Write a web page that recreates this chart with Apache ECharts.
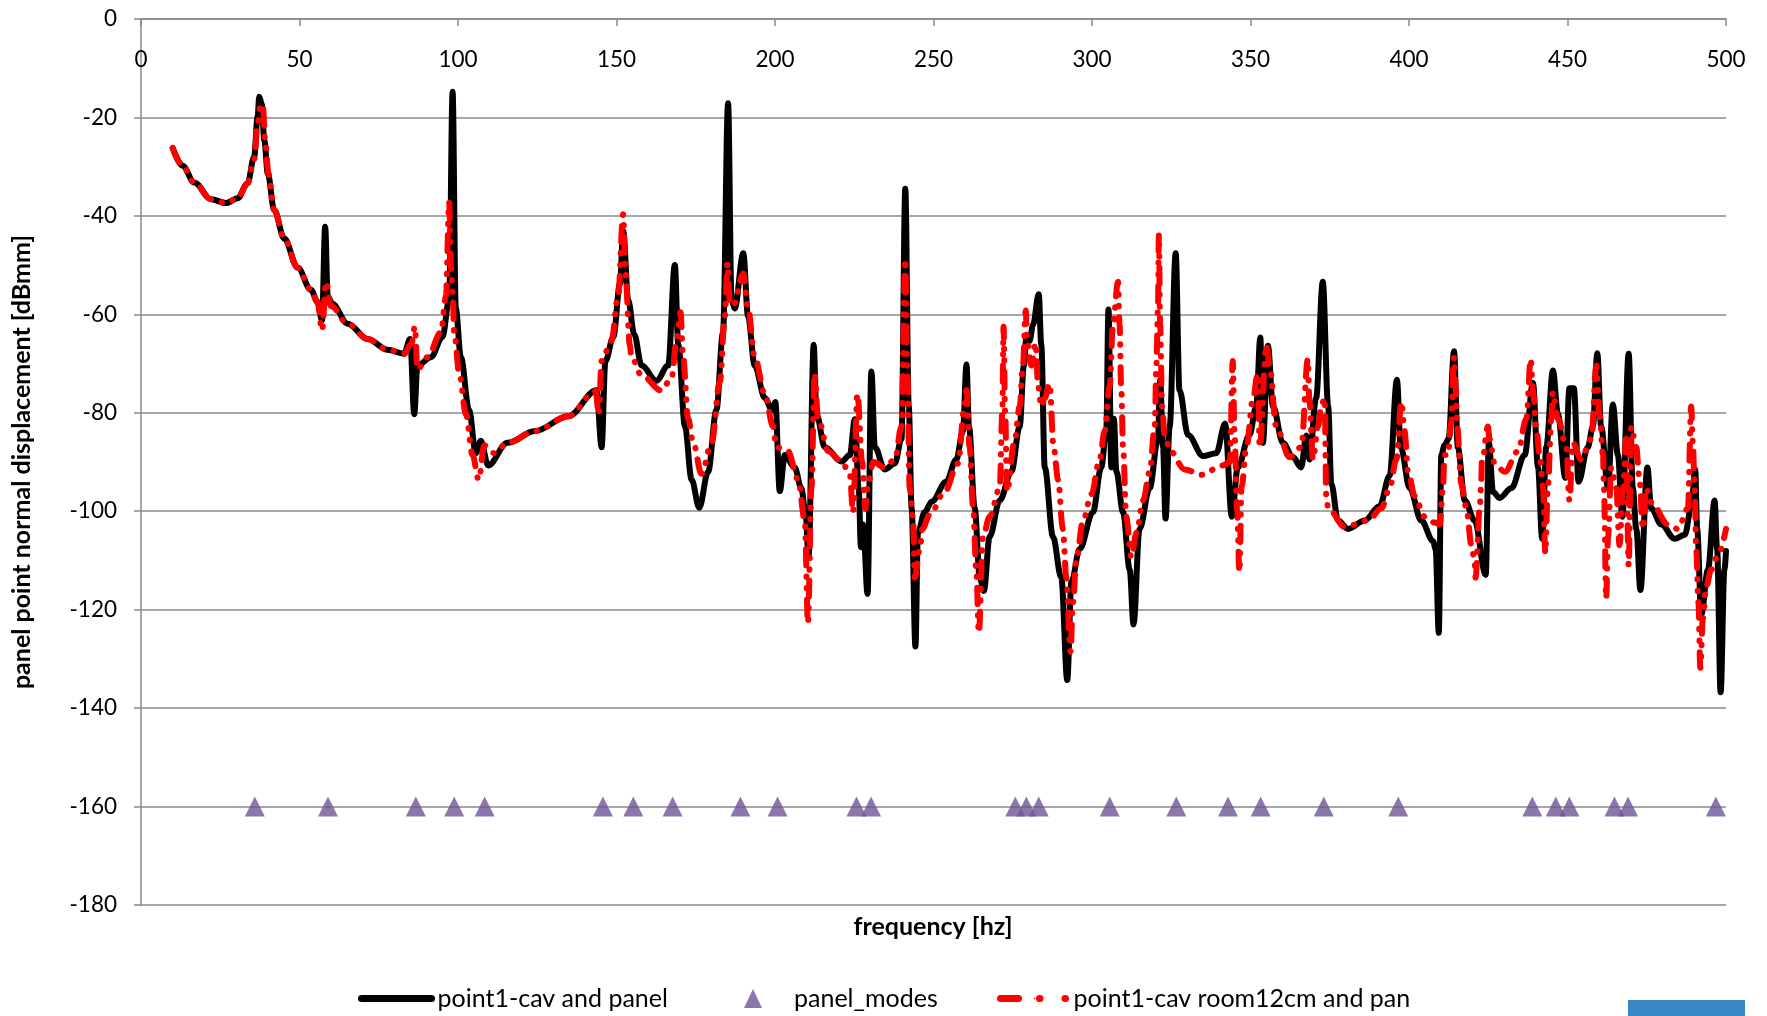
<!DOCTYPE html>
<html>
<head>
<meta charset="utf-8">
<script src="https://cdn.jsdelivr.net/npm/echarts@6/dist/echarts.min.js"></script>
<style>
html,body{margin:0;padding:0;background:#fff;}
#c{width:1767px;height:1016px;}
</style>
</head>
<body>
<div id="c"></div>
<script>
// ---- data ----
var xTicks = [0, 50, 100, 150, 200, 250, 300, 350, 400, 450, 500];
var yTicks = [0, -20, -40, -60, -80, -100, -120, -140, -160, -180];

var blackFreq = [10,13.1,16.8,22.1,26.8,30.5,33.6,35.7,36.8,37.3,38.1,38.9,40,42,45.2,49.4,53.6,55.7,57.1,58.1,58.9,60.4,65.2,71.5,77.8,83,84.9,86.2,87.2,91.5,95.1,97.2,98.3,99.3,100.9,103.5,105.6,107.2,109.5,115.6,124.3,134.8,143.7,145.3,146.5,149,151.1,152.1,153.7,155.6,157.9,162.6,166.3,168.4,169.5,171.6,173.7,176.1,178.9,181.5,183.6,185.2,186.3,187.3,190,191.5,193.6,196.8,199.1,200.1,201.5,203.1,206.2,208.3,209.6,210.6,212.2,213.1,215.7,221,223.6,225.2,226.4,227.1,227.8,229.2,230.4,231.5,234.6,237.8,239.9,241.1,242.2,243.1,244.3,245.1,247.2,249.5,254,257.2,259.3,260.4,261.2,263,264.6,265.9,267.7,270.9,274.6,277.2,278.5,279.3,280.3,281.4,283.2,284,285.1,287.7,290.3,292.2,293.5,296.1,300.3,302.9,304.5,305.2,306.1,306.9,307.7,309.8,311.9,313.1,315,318.2,320.8,321.5,322.4,323.2,324.5,326.4,327.6,330.3,335,339.2,342,344.1,346,349.7,351.8,353.1,353.9,355.5,357.1,360.2,363.4,366,367.6,368.6,370.7,372.8,374.5,375.5,377.6,380.8,386,390.7,393.9,396.2,397.4,400.2,403.9,407.6,408.4,409.4,410.2,411.2,412.5,414.2,415.4,417.6,420.7,424.2,425.2,426.5,428.6,432.3,436.5,439.1,440.7,442,443.3,445.4,447,449.3,450.6,452,453.5,456.4,458,459.4,460.6,462.8,464.3,465.9,467.3,469.3,470.6,471.7,473,475.2,476.4,479.6,483.8,487,489,490.3,490.9,492.2,494.3,496.4,497.2,498.3,499.5,500];
var blackVal = [-26.2,-29.8,-33.2,-36.6,-37.4,-36.4,-33.4,-28,-19.8,-15.8,-17.3,-24.7,-31.4,-38.8,-44.6,-50.5,-55,-57.5,-61.2,-42.2,-56.3,-57.9,-61.9,-65,-67.2,-68,-65,-80.3,-70.4,-68.7,-64.6,-57.1,-14.8,-58.8,-68.7,-79.5,-88.2,-85.7,-90.7,-86.1,-83.7,-80.7,-75.4,-87,-69.5,-64.6,-53.8,-43,-57.1,-64.1,-70.4,-73.5,-70.4,-50,-66.2,-82.8,-93.6,-99.3,-92,-79.5,-63.7,-17.1,-57.1,-58.8,-47.6,-60.4,-70.4,-77,-79.5,-77.8,-95.9,-88.6,-91.1,-95.3,-100.2,-109,-66.2,-80.3,-87,-89.9,-88.6,-81.3,-95.3,-107.3,-102.7,-116.8,-71.6,-87,-91.5,-90.3,-85.3,-34.5,-78.7,-99.4,-127.5,-104.4,-100.2,-98,-94,-89.5,-83.7,-70.2,-82.8,-99.4,-113.5,-116.2,-105.2,-97.8,-91.9,-82.8,-70.4,-64.7,-65.4,-62.1,-55.9,-66.2,-91.1,-105.2,-113.5,-134.3,-114.4,-107.7,-100.2,-91.1,-83.7,-59,-91.1,-81.2,-92,-100.2,-111.9,-123,-103.6,-95.3,-85.3,-73.3,-87,-101.5,-82.8,-47.6,-75.4,-84.5,-88.8,-88.2,-82.2,-101.1,-91.1,-84.5,-78.7,-64.7,-86.1,-66.4,-78.7,-86.1,-89,-91.1,-84.6,-89.5,-77,-53.4,-78.7,-94.4,-101.9,-103.6,-101.9,-99,-92.8,-73.3,-87,-95.3,-101.9,-106.1,-107.7,-124.7,-88.6,-86.6,-85.3,-67.5,-87,-97.8,-101.9,-112.9,-86.1,-96.1,-97.3,-95.3,-88.6,-73.9,-91.1,-105.6,-87,-71.4,-80.3,-93.2,-75,-75,-94,-87,-82.8,-67.9,-82.8,-95.3,-78.3,-88.6,-101.1,-68,-95.3,-103.6,-116,-91.1,-99.4,-102.7,-105.6,-104.8,-99.4,-91.5,-103.6,-121,-111.9,-97.8,-107.7,-136.8,-111.9,-108.1];

var redFreq = [10,13.1,16.8,22.1,26.8,30.5,33.6,35.7,36.8,37.6,38.4,39.2,40.2,42,45.2,49.4,53.6,55.7,57.1,58.4,59.9,65.2,71.5,77.8,83,85.3,86.4,87.2,90.4,94.6,96.2,97.2,97.8,98.3,98.8,100.4,102.5,104.6,106.5,108.3,111.4,115.6,124.3,134.8,143.4,144.4,145.3,148.4,150.5,152.1,152.8,154.2,154.7,157.9,164.2,167.4,168.9,170.2,171,172.6,174.2,176.8,180,182.6,184.2,185,185.7,186.8,190,191.5,193.6,196.8,199.4,200.5,204.1,207.3,209.4,210.4,211.5,212.5,213.6,216.8,221,223.6,224.6,226,227.5,228.5,229.4,231,234.6,237.8,239.9,241.1,241.7,242.5,243.6,244.1,245.7,246.5,248.8,253.5,257.7,259.8,260.4,261.4,262.5,263.5,264.3,265.6,267.7,270.9,271.7,272.1,272.6,273.2,275.5,277.2,278.2,279.1,279.5,280.9,282.2,283,284,285.1,286.6,287.9,289.3,290.8,291.9,293.2,294,295.1,297.2,299.8,302.4,304,305.6,306.6,308.2,308.7,309.2,309.8,310.8,312.4,314,316.1,318.2,319.8,320.3,320.8,321.1,321.5,322.1,322.9,324.7,329.2,334.5,341.1,343.5,344.4,345,345.8,346.5,347.2,348.7,350.8,352.3,352.9,355,356,358.1,362.3,366,368.1,368.6,369.7,371.3,372.3,373.4,373.9,374.5,379.7,387.1,391.3,393.9,396,397.6,398.6,399.7,401.8,404.9,408.1,409.7,410.7,411.2,412.3,413.3,414.2,414.7,415.2,416.5,418.1,419.7,420.7,421,422.3,422.8,423,424.9,425.4,427,430.2,434.4,437,438.4,439.1,440.1,441.2,442.3,443,443.8,444.9,445.4,447,449.6,450.6,451.7,454.3,457.5,459.1,460.1,461.2,461.5,462.2,462.8,463.8,465.4,466.4,467.5,468.5,469.3,470.1,471.7,472.7,473.8,474.8,476.4,481.7,484.8,488,489,489.6,490.1,490.6,491.3,491.9,492.7,493.8,495.3,497.4,500];
var redVal = [-26.2,-29.8,-33.2,-36.6,-37.4,-36.4,-33.4,-28.5,-21.4,-17.8,-17.3,-24.7,-31.4,-38.8,-44.6,-50.5,-55,-57.5,-63.3,-53.4,-58.3,-61.9,-65,-67.2,-68,-66,-62.5,-71.2,-68.7,-63.7,-56.3,-37.2,-50.5,-55.4,-63.7,-72,-80.3,-88.6,-93.6,-86.6,-88.2,-86.1,-83.7,-80.7,-75.6,-80.3,-69.5,-65.4,-56.3,-39.7,-51.3,-66.2,-68.7,-72.4,-75.5,-72.9,-65.4,-59.6,-68.7,-81.2,-86.1,-92.4,-86.1,-73.7,-60.4,-49.6,-57.1,-58.3,-51.7,-58.8,-68.7,-76.2,-82.8,-87,-87.8,-93.6,-101.9,-122.7,-95.3,-72,-81.2,-87.8,-89.9,-92.4,-100.2,-76.2,-90,-99.5,-94.5,-90,-91.1,-89.5,-82.8,-48.8,-70.4,-95.3,-101.9,-113.5,-107.7,-103.6,-100.7,-96.1,-90.3,-78.7,-75.4,-87,-99.4,-111.9,-124.7,-105.2,-101.1,-95.3,-80,-62.5,-80,-96,-86,-78.7,-70.4,-59.2,-65.4,-70.4,-65.8,-74.5,-78.7,-77,-74.1,-87,-93.6,-103.6,-113.5,-128.5,-118.5,-109.4,-101.9,-96.5,-89.5,-83.7,-74.5,-62.1,-53.4,-62.1,-74.5,-87,-101.1,-109.4,-104.4,-97.8,-92,-82.8,-70.4,-58.8,-43.8,-62.1,-78.7,-84.5,-87.8,-91.5,-92.6,-90.7,-90,-69.5,-85,-100,-112.3,-95,-87,-77,-72,-87,-66.2,-70.4,-82.8,-89,-87,-69.1,-77.8,-89.5,-82.8,-78.7,-77,-96.9,-99.4,-103.2,-101.9,-99.4,-95.3,-89.5,-77.8,-83.7,-92,-96.9,-101.1,-102.3,-102.7,-95.3,-88.6,-88.6,-82,-68.7,-74.5,-82.8,-94.4,-99.4,-106.9,-110.2,-113.5,-99.4,-93.6,-89.9,-82.8,-85.3,-90.3,-92,-87.8,-81.2,-69.1,-75.4,-82.8,-88.6,-95.3,-108.5,-95.3,-81.2,-75.8,-81.2,-87,-97.8,-86.1,-89.5,-85.3,-70.4,-80.3,-88.6,-95.3,-117.7,-105.2,-91.1,-95.3,-106.9,-95.3,-85.3,-111,-82.8,-87,-93.6,-103.6,-95.3,-98.2,-102.7,-103.6,-99.4,-78.7,-87,-95.3,-107.7,-118.5,-131.8,-121.8,-115.2,-111.9,-109,-103.6];

var modeFreq = [35.9,59,86.7,98.8,108.4,145.7,155.3,167.7,189.1,200.8,225.7,230.3,275.8,279.3,283.2,305.6,326.6,342.9,353.2,373.1,396.6,438.9,446.3,450.6,464.8,469.1,496.8];
var modeLevel = -160;

var seriesNames = ['point1-cav and panel', 'panel_modes', 'point1-cav room12cm and pan'];
var xTitle = 'frequency [hz]';
var yTitle = 'panel point normal displacement [dBmm]';

// ---- build pairs ----
function pairs(xs, ys) { return xs.map(function (x, i) { return [x, ys[i]]; }); }
var blackData = pairs(blackFreq, blackVal);
var redData = pairs(redFreq, redVal);
var modeData = modeFreq.map(function (f) { return [f, modeLevel]; });

var FONT = 'Lato';
var gridCol = '#8a8a8a';
var redDash = [16, 11, 0.5, 11, 0.5, 11];

var chart = echarts.init(document.getElementById('c'), null, {renderer: 'canvas'});
chart.setOption({
  animation: false,
  backgroundColor: '#ffffff',
  grid: {left: 141, top: 19, width: 1585, height: 886, containLabel: false},
  xAxis: {
    type: 'value', position: 'top', min: xTicks[0], max: xTicks[xTicks.length - 1], interval: 50,
    axisLine: {show: true, onZero: false, lineStyle: {color: gridCol, width: 1.5}},
    axisTick: {show: true, inside: true, length: 7, lineStyle: {color: gridCol, width: 1.5}},
    axisLabel: {inside: true, margin: 29, fontFamily: FONT, fontSize: 22.5, color: '#000'},
    splitLine: {show: false}
  },
  yAxis: {
    type: 'value', min: yTicks[yTicks.length - 1], max: yTicks[0], interval: 20,
    axisLine: {show: true, onZero: false, lineStyle: {color: gridCol, width: 1.5}},
    axisTick: {show: true, inside: false, length: 7, lineStyle: {color: gridCol, width: 1.5}},
    axisLabel: {margin: 24, fontFamily: FONT, fontSize: 22.5, color: '#000'},
    splitLine: {show: true, lineStyle: {color: gridCol, width: 1.5}}
  },
  legend: [
    {data: [seriesNames[0]], left: 358, top: 986, padding: 0, itemWidth: 70, itemHeight: 2, itemGap: 0,
     lineStyle: {width: 7, cap: 'round'},
     textStyle: {fontFamily: FONT, fontSize: 25, color: '#000', padding: [0, 0, 0, 1]}},
    {data: [seriesNames[1]], left: 744, top: 986, padding: 0, itemWidth: 18, itemHeight: 19, itemGap: 0,
     textStyle: {fontFamily: FONT, fontSize: 25, color: '#000', padding: [0, 0, 0, 27]}},
    {data: [seriesNames[2]], left: 997, top: 986, padding: 0, itemWidth: 68, itemHeight: 2, itemGap: 0,
     lineStyle: {width: 7, cap: 'round', type: [18, 21, 0.5, 25, 0.5, 60]},
     textStyle: {fontFamily: FONT, fontSize: 25, color: '#000'}}
  ],
  graphic: [
    {type: 'text', x: 933, y: 927, style: {text: xTitle, font: 'bold 25px ' + FONT, fill: '#000', textAlign: 'center', textVerticalAlign: 'middle'}},
    {type: 'text', x: 22, y: 462, rotation: Math.PI / 2, style: {text: yTitle, font: 'bold 25px ' + FONT, fill: '#000', textAlign: 'center', textVerticalAlign: 'middle'}},
    {type: 'rect', shape: {x: 1628, y: 1000, width: 117, height: 16}, style: {fill: '#3a87c8'}}
  ],
  series: [
    {name: seriesNames[0], type: 'line', data: blackData, showSymbol: false, symbol: 'none',
     smooth: 0.35, smoothMonotone: 'x',
     lineStyle: {color: '#000000', width: 6, cap: 'round', join: 'round'}, itemStyle: {color: '#000000'}, z: 2},
    {name: seriesNames[1], type: 'scatter', data: modeData, symbol: 'triangle', symbolSize: [20, 20],
     itemStyle: {color: '#6f5597'}, z: 4},
    {name: seriesNames[2], type: 'line', data: redData, showSymbol: false, symbol: 'none',
     smooth: 0.35, smoothMonotone: 'x',
     lineStyle: {color: '#ff0000', width: 6, type: redDash, cap: 'round', join: 'round'},
     itemStyle: {color: '#ff0000'}, z: 3}
  ]
});
</script>
</body>
</html>
